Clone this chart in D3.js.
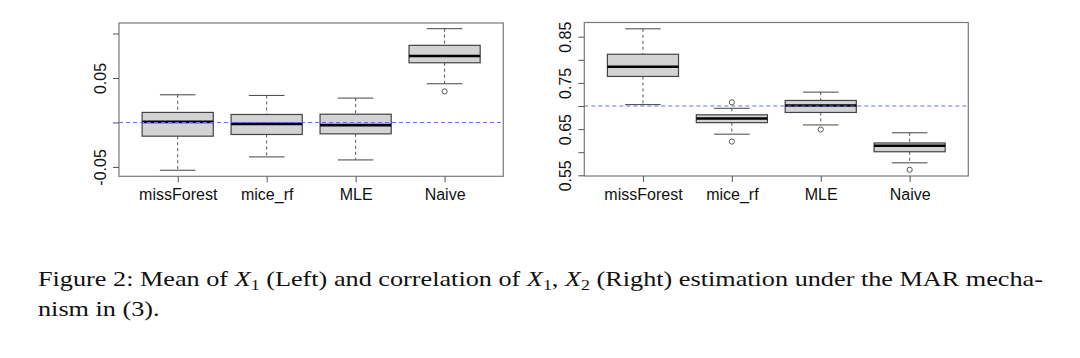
<!DOCTYPE html>
<html>
<head>
<meta charset="utf-8">
<script src="https://cdn.jsdelivr.net/npm/d3@7"></script>
<style>
  html, body { margin: 0; padding: 0; background: #fff; }
  svg { display: block; }
</style>
</head>
<body>
<svg id="fig" width="1080" height="358"></svg>
<script>
// ---- data ----
const METHODS = ["missForest", "mice_rf", "MLE", "Naive"];

// Left panel: mean of X1
const meanLo   = [-0.0537, -0.0387, -0.0421, 0.0435];
const meanQ1   = [-0.0154, -0.0135, -0.0128, 0.0671];
const meanMed  = [ 0.0007, -0.0016, -0.0030, 0.0747];
const meanQ3   = [ 0.0113,  0.0090,  0.0093, 0.0867];
const meanHi   = [ 0.0311,  0.0304,  0.0274, 0.1054];
const meanOut  = [[], [], [], [0.0349]];
const meanTruth = 0;
const meanTicks = [-0.05, 0, 0.05, 0.10];
const meanLabels = ["-0.05", "", "0.05", ""];

// Right panel: correlation of X1, X2
const corLo   = [0.703, 0.639, 0.659, 0.577];
const corQ1   = [0.764, 0.664, 0.686, 0.601];
const corMed  = [0.785, 0.673, 0.701, 0.614];
const corQ3   = [0.812, 0.681, 0.712, 0.620];
const corHi   = [0.867, 0.695, 0.730, 0.642];
const corOut  = [[], [0.708, 0.623], [0.649], [0.562]];
const corTruth = 0.70;
const corTicks = [0.55, 0.60, 0.65, 0.70, 0.75, 0.80, 0.85];
const corLabels = ["0.55", "", "0.65", "", "0.75", "", "0.85"];

const svg = d3.select("#fig");
const AXIS_FONT = "'Liberation Sans', Arial, sans-serif";

function panel(opts) {
  const x = d3.scaleLinear().domain([0.34, 4.66]).range([opts.left, opts.right]);
  const y = d3.scaleLinear().domain(opts.yDomain).range([opts.bottom, opts.top]);
  const bw = (x(2) - x(1)) * 0.8;
  const g = svg.append("g");

  const stats = METHODS.map((m, i) => ({
    m, i: i + 1, lo: opts.lo[i], q1: opts.q1[i], med: opts.med[i], q3: opts.q3[i], hi: opts.hi[i], out: opts.out[i]
  }));

  const box = g.selectAll(".bx").data(stats).enter().append("g");
  // whiskers (dashed)
  box.append("line").attr("x1", d => x(d.i)).attr("x2", d => x(d.i))
    .attr("y1", d => y(d.hi)).attr("y2", d => y(d.q3))
    .attr("stroke", "#555").attr("stroke-dasharray", "3,3");
  box.append("line").attr("x1", d => x(d.i)).attr("x2", d => x(d.i))
    .attr("y1", d => y(d.q1)).attr("y2", d => y(d.lo))
    .attr("stroke", "#555").attr("stroke-dasharray", "3,3");
  // staples
  box.append("line").attr("x1", d => x(d.i) - bw / 4).attr("x2", d => x(d.i) + bw / 4)
    .attr("y1", d => y(d.hi)).attr("y2", d => y(d.hi)).attr("stroke", "#444");
  box.append("line").attr("x1", d => x(d.i) - bw / 4).attr("x2", d => x(d.i) + bw / 4)
    .attr("y1", d => y(d.lo)).attr("y2", d => y(d.lo)).attr("stroke", "#444");
  // box
  box.append("rect").attr("x", d => x(d.i) - bw / 2).attr("width", bw)
    .attr("y", d => y(d.q3)).attr("height", d => y(d.q1) - y(d.q3))
    .attr("fill", "#d3d3d3").attr("stroke", "#444").attr("stroke-width", 1.2);
  // median
  box.append("line").attr("x1", d => x(d.i) - bw / 2).attr("x2", d => x(d.i) + bw / 2)
    .attr("y1", d => y(d.med)).attr("y2", d => y(d.med))
    .attr("stroke", "#000").attr("stroke-width", 2.6);
  // outliers
  box.selectAll("circle").data(d => d.out.map(v => ({ i: d.i, v }))).enter().append("circle")
    .attr("cx", d => x(d.i)).attr("cy", d => y(d.v)).attr("r", 2.6)
    .attr("fill", "none").attr("stroke", "#555").attr("stroke-width", 1);

  // truth line
  g.append("line").attr("x1", opts.left).attr("x2", opts.right)
    .attr("y1", y(opts.truth)).attr("y2", y(opts.truth))
    .attr("stroke", "#6a6aff").attr("stroke-width", 1).attr("stroke-dasharray", "4,3");

  // frame
  g.append("rect").attr("x", opts.left).attr("y", opts.top)
    .attr("width", opts.right - opts.left).attr("height", opts.bottom - opts.top)
    .attr("fill", "none").attr("stroke", "#7a7a7a").attr("stroke-width", 1.2);

  // y axis
  const ya = g.append("g").attr("transform", `translate(${opts.left},0)`)
    .call(d3.axisLeft(y).tickValues(opts.ticks).tickSize(6)
      .tickFormat((d, i) => opts.labels[i]));
  ya.select(".domain").remove();
  ya.selectAll("line").attr("stroke", "#555");
  ya.selectAll("text")
    .attr("transform", "rotate(-90)").attr("x", 0).attr("y", -13).attr("dy", 0)
    .attr("text-anchor", "middle").style("font-family", AXIS_FONT)
    .style("font-size", "16px").attr("fill", "#111");

  // x axis
  const xa = g.append("g").attr("transform", `translate(0,${opts.bottom})`)
    .call(d3.axisBottom(x).tickValues([1, 2, 3, 4]).tickSize(6)
      .tickFormat(d => METHODS[d - 1]));
  xa.select(".domain").remove();
  xa.selectAll("line").attr("stroke", "#555");
  xa.selectAll("text").attr("y", 24).attr("dy", 0)
    .style("font-family", AXIS_FONT).style("font-size", "16px").attr("fill", "#111");
}

panel({ left: 119, right: 503.3, top: 23, bottom: 176.3,
  yDomain: [-0.0605, 0.1118], lo: meanLo, q1: meanQ1, med: meanMed, q3: meanQ3, hi: meanHi,
  out: meanOut, truth: meanTruth, ticks: meanTicks, labels: meanLabels });

panel({ left: 584.3, right: 968.3, top: 22.5, bottom: 176,
  yDomain: [0.5485, 0.8807], lo: corLo, q1: corQ1, med: corMed, q3: corQ3, hi: corHi,
  out: corOut, truth: corTruth, ticks: corTicks, labels: corLabels });

// ---- caption ----
const CAP_FONT = "'Liberation Serif', 'Times New Roman', serif";
const cap1 = svg.append("text").attr("x", 38).attr("y", 286)
  .style("font-family", CAP_FONT).style("font-size", "22px").attr("fill", "#111");
const parts = [
  ["Figure 2: Mean of "], ["X", "i"], ["1", "s"], [" (Left) and correlation of "],
  ["X", "i"], ["1", "s"], [", "], ["X", "i"], ["2", "s"],
  [" (Right) estimation under the MAR mecha-"]
];
let shifted = false;
parts.forEach(([t, k]) => {
  const ts = cap1.append("tspan").text(t);
  if (k === "i") ts.style("font-style", "italic");
  if (k === "s") { ts.style("font-size", "15px").attr("dy", 4); shifted = true; }
  else if (shifted) { ts.attr("dy", -4); shifted = false; }
});
const cap2 = svg.append("text").attr("x", 38).attr("y", 316)
  .style("font-family", CAP_FONT).style("font-size", "22px").attr("fill", "#111")
  .text("nism in (3).");

const w1 = cap1.node().getComputedTextLength();
const w2 = cap2.node().getComputedTextLength();
const k = (1043 - 38) / w1;
cap1.attr("textLength", w1 * k).attr("lengthAdjust", "spacingAndGlyphs");
cap2.attr("textLength", w2 * k).attr("lengthAdjust", "spacingAndGlyphs");
</script>
</body>
</html>
